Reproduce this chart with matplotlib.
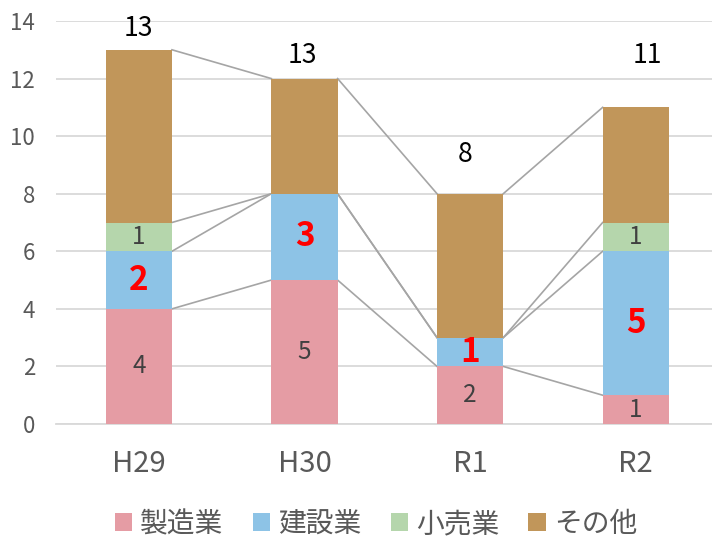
import matplotlib
matplotlib.use("Agg")
import matplotlib.pyplot as plt
from matplotlib.patches import Patch
import numpy as np

plt.rcParams['font.family'] = ['Noto Sans CJK JP', 'DejaVu Sans']

categories = ["H29", "H30", "R1", "R2"]
series_names = ["製造業", "建設業", "小売業", "その他"]
manufacturing = [4, 5, 2, 1]
construction = [2, 3, 1, 5]
retail = [1, 0, 0, 1]
other = [6, 4, 5, 4]
total_labels = ["13", "13", "8", "11"]

colors = ["#E59CA4", "#8DC3E6", "#B5D6AC", "#C1965A"]
label_dy = [0.75, 0.8, 1.35, 1.8]
label_dx = [0.0, -0.01, -0.03, 0.07]

series = [manufacturing, construction, retail, other]
show_labels = [True, True, True, False]

fig = plt.figure(figsize=(7.12, 5.38), dpi=100)
ax = fig.add_axes([56/712, 1 - 424/538, 1 - 56/712, (424 - 21)/538])

x = np.arange(len(categories))
w = 0.4
bottom = np.zeros(len(categories))
cums = []
for name, vals, c, show in zip(series_names, series, colors, show_labels):
    vals = np.array(vals, dtype=float)
    ax.bar(x, vals, w, bottom=bottom, color=c, zorder=3, label=name,
           edgecolor='none')
    if show:
        for i, v in enumerate(vals):
            if v > 0:
                yc = bottom[i] + v / 2
                if name == "建設業":
                    ax.text(x[i], yc, f"{int(v)}", ha='center', va='center',
                            color='#FF0000', fontsize=24, fontweight='bold', zorder=5)
                else:
                    ax.text(x[i], yc, f"{int(v)}", ha='center', va='center',
                            color='#404040', fontsize=17.5, zorder=5)
    bottom = bottom + vals
    cums.append(bottom.copy())

# series lines
for cum in cums:
    for i in range(len(categories) - 1):
        ax.plot([x[i] + w/2, x[i+1] - w/2], [cum[i], cum[i+1]],
                color='#A5A5A5', lw=1.2, zorder=2)

# totals
for i, t in enumerate(total_labels):
    ax.text(x[i] + label_dx[i], cums[-1][i] + label_dy[i], t, ha='center', va='center',
            color='#000000', fontsize=19, zorder=5)

ax.set_xlim(-0.5, 3.46)
ax.set_ylim(0, 14)
ax.set_yticks(range(0, 15, 2))
ax.set_xticks(x)
ax.set_xticklabels(categories)
ax.yaxis.grid(True, color='#D9D9D9', lw=1.3, zorder=0)
ax.set_axisbelow(True)
for s in ['top', 'right', 'left']:
    ax.spines[s].set_visible(False)
ax.spines['bottom'].set_color('#D9D9D9')
ax.spines['bottom'].set_linewidth(1.3)
ax.tick_params(axis='y', length=0, pad=15, labelsize=16, labelcolor='#595959')
ax.tick_params(axis='x', length=0, pad=18, labelsize=21, labelcolor='#595959')

handles = [Patch(facecolor=c, edgecolor='none') for c in colors]
fig.legend(handles, series_names, loc='center', bbox_to_anchor=(0.528, 0.026),
           ncol=4, frameon=False, fontsize=20, handlelength=0.62, handleheight=0.62,
           handletextpad=0.3, columnspacing=1.05, labelcolor='#595959')

fig.savefig("out.png", dpi=100)
